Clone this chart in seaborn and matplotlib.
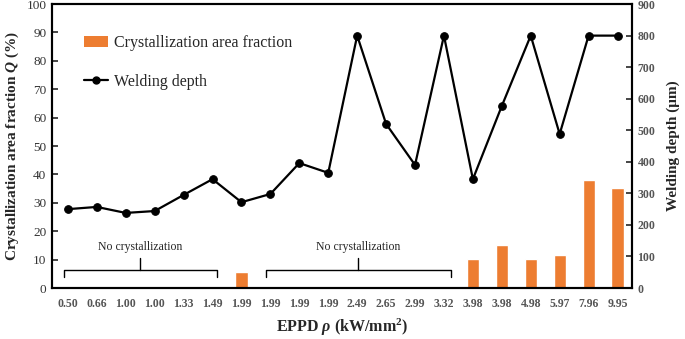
import matplotlib
matplotlib.use("Agg")
import matplotlib.pyplot as plt
import seaborn as sns
import pandas as pd
import numpy as np
from matplotlib.patches import Patch
from matplotlib.lines import Line2D

eppd_labels = ["0.50", "0.66", "1.00", "1.00", "1.33", "1.49", "1.99", "1.99", "1.99", "1.99",
               "2.49", "2.65", "2.99", "3.32", "3.98", "3.98", "4.98", "5.97", "7.96", "9.95"]
cryst_fraction = [0, 0, 0, 0, 0, 0, 5.6, 0, 0, 0,
                  0, 0, 0, 0, 10.2, 15.1, 10.2, 11.6, 38.0, 35.2]
welding_depth = [250, 257, 238, 244, 295, 345, 272, 298, 396, 365,
                 800, 520, 390, 800, 345, 577, 800, 488, 800, 800]

df = pd.DataFrame({"pos": np.arange(len(eppd_labels)),
                   "frac": cryst_fraction,
                   "depth": welding_depth})

sns.set_style("white")
plt.rcParams["font.family"] = ["Liberation Serif", "DejaVu Serif"]
plt.rcParams["mathtext.fontset"] = "custom"
plt.rcParams["mathtext.rm"] = "Liberation Serif"
plt.rcParams["mathtext.it"] = "Liberation Serif:italic:bold"
plt.rcParams["mathtext.bf"] = "Liberation Serif:bold"

orange = "#ED7D31"
fig = plt.figure(figsize=(6.85, 3.39), dpi=100)
ax = fig.add_axes([0.0759, 0.1504, 0.8467, 0.8376])
sns.barplot(data=df, x="pos", y="frac", native_scale=True, color=orange,
            saturation=1, width=0.42, ax=ax)
ax2 = ax.twinx()
sns.lineplot(data=df, x="pos", y="depth", color="black", marker="o",
             markersize=5.5, linewidth=1.6, markeredgecolor="black", ax=ax2)

ax.set_xlim(-0.55, 19.5)
ax.set_ylim(0, 100)
ax2.set_ylim(0, 900)
ax.set_yticks(range(0, 101, 10))
ax2.set_yticks(range(0, 901, 100))
ax.set_xticks(df["pos"])
ax.set_xticklabels(eppd_labels, fontsize=8.5, fontweight="bold", color="#555555")
ax.tick_params(axis="x", length=0, pad=7)
ax.tick_params(axis="y", direction="in", length=4, width=1.2, labelsize=9.5,
               labelcolor="#333333", pad=4)
ax2.tick_params(axis="y", direction="in", length=4, width=1.2, labelsize=8.5,
                labelcolor="#555555", pad=4)
for lab in ax2.get_yticklabels():
    lab.set_fontweight("bold")
for a in (ax, ax2):
    for s in a.spines.values():
        s.set_linewidth(1.5)
        s.set_color("black")

ax.set_xlabel(r"EPPD $\rho$ (kW/mm$^\mathbf{2}$)", fontsize=11.5, fontweight="bold", labelpad=5)
ax.set_ylabel(r"Crystallization area fraction $Q$ (%)", fontsize=11, fontweight="bold", labelpad=4)
ax2.set_ylabel("Welding depth (μm)", fontsize=11, fontweight="bold", labelpad=8)

# braces for "No crystallization"
def brace(x0, x1, xm):
    yb, yh, yt = 3.9, 6.3, 10.6
    ax.plot([x0, x0, x1, x1], [yb, yh, yh, yb], color="black", lw=1.0)
    ax.plot([xm, xm], [yh, yt], color="black", lw=1.0)
    ax.text(xm, 14.4, "No crystallization", ha="center", va="center", fontsize=8.5)

brace(-0.14, 5.16, 2.5)
brace(6.85, 13.25, 10.03)

handles = [Patch(facecolor=orange, edgecolor="none"),
           Line2D([0], [0], color="black", marker="o", markersize=5, linewidth=1.6)]
ax.legend(handles, ["Crystallization area fraction", "Welding depth"],
          loc="upper left", bbox_to_anchor=(0.03, 0.94), frameon=False,
          fontsize=11.5, handlelength=1.5, handletextpad=0.4, labelspacing=1.4)

fig.savefig("out.png", dpi=100)
